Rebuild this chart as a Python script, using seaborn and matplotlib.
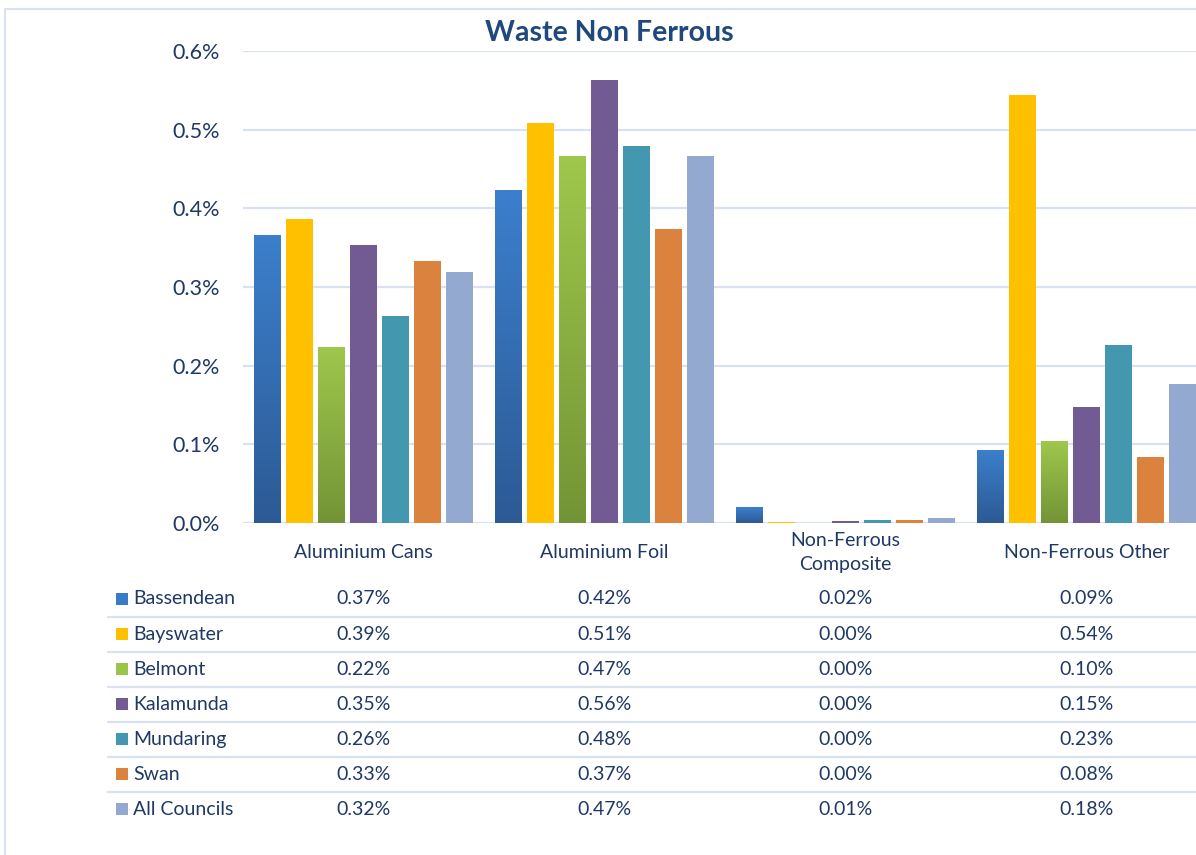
import matplotlib
matplotlib.use("Agg")
import matplotlib.pyplot as plt
import matplotlib.transforms as mtransforms
from matplotlib.colors import LinearSegmentedColormap
from matplotlib.patches import Rectangle
from matplotlib.lines import Line2D
import numpy as np
import pandas as pd
import seaborn as sns

# data (percent of total waste)
categories = ["Aluminium Cans", "Aluminium Foil", "Non-Ferrous\nComposite", "Non-Ferrous Other"]
councils = ["Bassendean", "Bayswater", "Belmont", "Kalamunda", "Mundaring", "Swan", "All Councils"]
bassendean = [0.366, 0.423, 0.020, 0.093]
bayswater = [0.386, 0.508, 0.001, 0.544]
belmont = [0.224, 0.466, 0.000, 0.104]
kalamunda = [0.354, 0.563, 0.003, 0.147]
mundaring = [0.263, 0.479, 0.004, 0.226]
swan = [0.333, 0.374, 0.004, 0.084]
all_councils = [0.319, 0.466, 0.006, 0.177]
yticks = [0.0, 0.1, 0.2, 0.3, 0.4, 0.5, 0.6]

series = [bassendean, bayswater, belmont, kalamunda, mundaring, swan, all_councils]
colors = ["#3A7BC8", "#FFC000", "#9BC44A", "#725A92", "#4397AE", "#DA823E", "#93A9CF"]
gradients = {"Bassendean": ("#2C5A94", "#3C7FCC"), "Belmont": ("#739436", "#9FC74C")}
navy = "#1F3864"
grid_col = "#D9E2F0"

rows = []
for name, vals in zip(councils, series):
    for cat, v in zip(categories, vals):
        rows.append({"category": cat, "council": name, "value": v})
df = pd.DataFrame(rows)

sns.set_theme(style="white")
plt.rcParams["font.family"] = ["Lato", "DejaVu Sans"]

W, H = 1196, 855
fig = plt.figure(figsize=(W / 100, H / 100), dpi=100)
ax_left, ax_right, ax_bottom, ax_top = 243, 1207, 523, 51
ax = fig.add_axes([ax_left / W, 1 - ax_bottom / H, (ax_right - ax_left) / W, (ax_bottom - ax_top) / H])

sns.barplot(data=df, x="category", y="value", hue="council", hue_order=councils,
            palette=colors, saturation=1, width=0.93, gap=0.16, ax=ax, legend=False,
            edgecolor="none", linewidth=0, zorder=3)

# gradient fill for two series
for name, container in zip(councils, ax.containers):
    if name in gradients:
        cmap = LinearSegmentedColormap.from_list(name, list(gradients[name]))
        grad = np.linspace(0, 1, 256).reshape(-1, 1)
        for p in container.patches:
            x0, y0 = p.get_x(), p.get_y()
            w, h = p.get_width(), p.get_height()
            if h <= 0:
                continue
            im = ax.imshow(grad, extent=[x0, x0 + w, y0, y0 + h], origin="lower",
                           cmap=cmap, aspect="auto", zorder=4)
            im.set_clip_path(p)

ax.set_xlim(-0.5, 3.5)
ax.set_ylim(0, 0.6)
ax.set_yticks(yticks)
ax.set_yticklabels([f"{t:.1f}%" for t in yticks])
ax.yaxis.grid(True, color=grid_col, linewidth=1.6, zorder=0)
ax.set_axisbelow(True)
for s in ax.spines.values():
    s.set_visible(False)
ax.axhline(0, color=grid_col, linewidth=2, zorder=2)
ax.set_xlabel("")
ax.set_ylabel("")
ax.tick_params(axis="y", length=0, pad=17, labelsize=15.5, labelcolor=navy)
ax.tick_params(axis="x", length=0, pad=21, labelsize=14, labelcolor=navy)
for lbl in ax.get_xticklabels():
    lbl.set_verticalalignment("center")
    lbl.set_linespacing(1.5)

fig.text(609 / W, 1 - 33 / H, "Waste Non Ferrous", ha="center", va="center",
         fontsize=20.5, fontweight="bold", color="#1F497D")

# data table below the chart
trans = mtransforms.blended_transform_factory(ax.transData, fig.transFigure)
row_y0, row_step = 599, 35
for i, (name, vals, col) in enumerate(zip(councils, series, colors)):
    yc = row_y0 + i * row_step
    fig.add_artist(Rectangle((116 / W, 1 - (yc + 6) / H), 12 / W, 12 / H,
                             transform=fig.transFigure, facecolor=col, edgecolor="none"))
    fig.text(133 / W, 1 - yc / H, name, ha="left", va="center", fontsize=14, color=navy)
    for j, v in enumerate(vals):
        fig.text(j, 1 - yc / H, f"{v:.2f}%", ha="center", va="center",
                 fontsize=14, color=navy, transform=trans)
    if i < len(councils) - 1:
        ly = 1 - (yc + 18) / H
        fig.add_artist(Line2D([108 / W, 1], [ly, ly], transform=fig.transFigure,
                              color=grid_col, linewidth=1.6))

# chart frame
fig.add_artist(Line2D([5 / W, 5 / W], [0, 1 - 9 / H], transform=fig.transFigure,
                      color=grid_col, linewidth=1.5))
fig.add_artist(Line2D([5 / W, 1], [1 - 9 / H, 1 - 9 / H], transform=fig.transFigure,
                      color=grid_col, linewidth=1.5))

fig.savefig("out.png", dpi=100, facecolor="white")
